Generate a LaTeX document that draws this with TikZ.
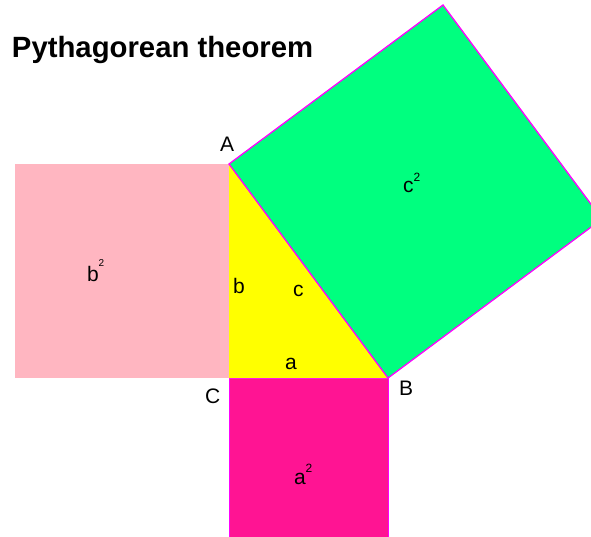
\documentclass[tikz,border=0pt]{standalone}
\usepackage{fontspec}
\setmainfont{Liberation Sans}
\definecolor{sqb}{RGB}{255,182,193}
\definecolor{sqa}{RGB}{255,20,147}
\definecolor{sqc}{RGB}{0,255,127}
\definecolor{edge}{RGB}{255,0,255}
\definecolor{tri}{RGB}{255,255,0}
\newcommand{\supr}[3]{\raisebox{#1pt}{\fontsize{#2}{#2}\selectfont #3}}
\tikzset{
  lbl/.style={anchor=base west, inner sep=0pt, outer sep=0pt, font=\fontsize{21}{25}\selectfont},
  ttl/.style={anchor=base west, inner sep=0pt, outer sep=0pt, font=\fontsize{29.3}{35}\selectfont\bfseries}
}
\begin{document}
\begin{tikzpicture}[x=1pt,y=-1pt]
\useasboundingbox (0,0) rectangle (591,536);
\coordinate (A) at (229,164);
\coordinate (B) at (388,378);
\coordinate (C) at (229,378);
\coordinate (Bp) at (602,219);
\coordinate (Ap) at (443,5);
\coordinate (Bl) at (15,164);
\coordinate (Cl) at (15,378);
\coordinate (Cd) at (229,537);
\coordinate (Bd) at (388,537);
\begin{scope}
\clip (0,0) rectangle (591,536);
\fill[sqb] (Bl) -- (A) -- (C) -- (Cl) -- cycle;
\filldraw[fill=sqa, draw=edge, line width=0.8pt] (C) -- (B) -- (Bd) -- (Cd) -- cycle;
\fill[tri] (A) -- (B) -- (C) -- cycle;
\filldraw[fill=sqc, draw=edge, line width=1.3pt] (A) -- (B) -- (Bp) -- (Ap) -- cycle;
\end{scope}
\node[ttl] (title) at (12,57) {Pythagorean theorem};
\node[lbl] (lA) at (220,151) {A};
\node[lbl] (lC) at (205,403) {C};
\node[lbl] (lB) at (399,395) {B};
\node[lbl] (lb) at (233,293) {b};
\node[lbl] (lc) at (293,296) {c};
\node[lbl] (la) at (285,369) {a};
\node[lbl] (lb2) at (87,281) {b\supr{15}{10}{2}};
\node[lbl] (lc2) at (403,192) {c\supr{11}{12}{2}};
\node[lbl] (la2) at (294,484) {a\supr{12}{12}{2}};
\end{tikzpicture}
\end{document}
